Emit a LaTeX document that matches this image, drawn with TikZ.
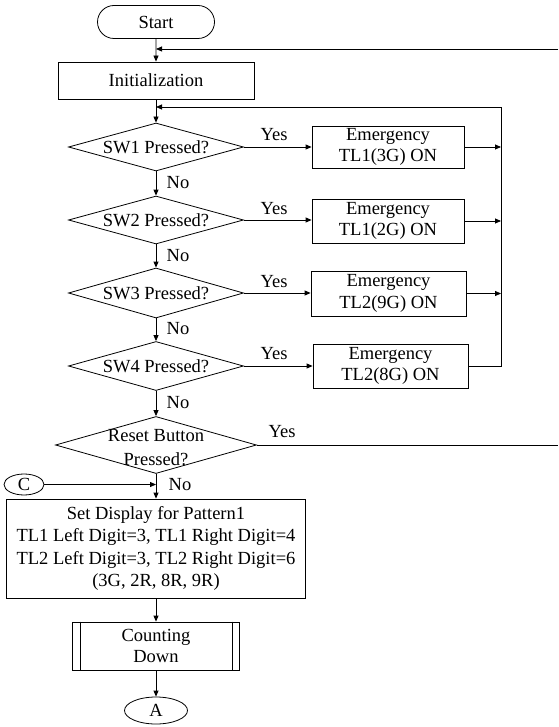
\documentclass[tikz,border=0pt]{standalone}
\usepackage{fontspec}
\setmainfont{Liberation Serif}
\usetikzlibrary{shapes.geometric,shapes.misc,arrows.meta}
\begin{document}
\begin{tikzpicture}[x=1pt,y=-1pt,
 every node/.style={font=\fontsize{18.5}{21.5}\selectfont},
 line/.style={draw=black, line width=0.8pt},
 arr/.style={line, -{Triangle[length=6pt,width=5pt]}},
 procbox/.style={draw, line width=0.8pt, rectangle, inner sep=0pt, align=center},
 decision/.style={draw, line width=0.8pt, diamond, inner sep=0pt},
 term/.style={draw, line width=0.8pt, rounded rectangle, inner sep=0pt},
 conn/.style={draw, line width=0.8pt, ellipse, inner sep=0pt},
 lbl/.style={inner sep=0pt}
]
\useasboundingbox (0,0) rectangle (558,727);

% nodes
\node[term, minimum width=117pt, minimum height=33pt] (start) at (156,22) {Start};
\node[procbox, minimum width=196pt, minimum height=37pt] (init) at (156,80.5) {Initialization};

\node[decision, minimum width=175pt, minimum height=48pt] (d1) at (156,147) {};
\node[lbl] (t1) at (d1) {SW1 Pressed?};
\node[decision, minimum width=175pt, minimum height=48pt] (d2) at (156,220) {};
\node[lbl] (t2) at (d2) {SW2 Pressed?};
\node[decision, minimum width=175pt, minimum height=50pt] (d3) at (156,293) {};
\node[lbl] (t3) at (d3) {SW3 Pressed?};
\node[decision, minimum width=175pt, minimum height=49pt] (d4) at (156,366) {};
\node[lbl] (t4) at (d4) {SW4 Pressed?};

\node[procbox, minimum width=152pt, minimum height=42pt] (e1) at (388,147) {Emergency\\TL1(3G) ON};
\node[procbox, minimum width=152pt, minimum height=44pt] (e2) at (388,221) {Emergency\\TL1(2G) ON};
\node[procbox, minimum width=155pt, minimum height=45pt] (e3) at (388.5,293.5) {Emergency\\TL2(9G) ON};
\node[procbox, minimum width=155pt, minimum height=44pt] (e4) at (390.5,366) {Emergency\\TL2(8G) ON};

\node[decision, minimum width=201pt, minimum height=57pt] (reset) at (156,445) {};
\node[lbl, align=center, font=\fontsize{18.5}{24}\selectfont] (tr) at (156,448) {Reset Button\\Pressed?};

\node[conn, minimum width=40pt, minimum height=21pt] (C) at (24,484.5) {C};

\node[procbox, minimum width=299pt, minimum height=99pt, font=\fontsize{18.5}{22.3}\selectfont] (pat) at (156,548.5)
 {Set Display for Pattern1\\TL1 Left Digit=3, TL1 Right Digit=4\\TL2 Left Digit=3, TL2 Right Digit=6\\(3G, 2R, 8R, 9R)};

\node[procbox, minimum width=167pt, minimum height=48pt] (cd) at (156,646) {Counting\\Down};
\draw[line] ([xshift=8pt]cd.north west) -- ([xshift=8pt]cd.south west);
\draw[line] ([xshift=-8pt]cd.north east) -- ([xshift=-8pt]cd.south east);

\node[conn, minimum width=63pt, minimum height=27pt] (A) at (156,710.5) {A};

% helper coordinates
\coordinate (r1) at (558,49);
\coordinate (rr) at (501,107);

% connectors
\draw[arr] (start) -- (init);
\draw[arr] (r1) -- (r1 -| start.south);
\draw[arr] (init) -- (d1);
\draw[arr] (e4.east) -- (e4.east -| rr) -- (rr) -- (rr -| init.south);
\draw[arr] (e1.east) -- (e1.east -| rr);
\draw[arr] (e2.east) -- (e2.east -| rr);
\draw[arr] (e3.east) -- (e3.east -| rr);

\draw[arr] (d1.east) -- (d1.east -| e1.west);
\draw[arr] (d2.east) -- (d2.east -| e2.west);
\draw[arr] (d3.east) -- (d3.east -| e3.west);
\draw[arr] (d4.east) -- (d4.east -| e4.west);

\draw[arr] (d1) -- (d2);
\draw[arr] (d2) -- (d3);
\draw[arr] (d3) -- (d4);
\draw[arr] (d4) -- (reset);
\draw[line] (reset.east) -- (reset.east -| r1);
\draw[arr] (reset.south) -- (pat.north);
\draw[arr] (C.east) -- (C.east -| pat.north);
\draw[arr] (pat) -- (cd);
\draw[arr] (cd) -- (A);

% labels
\node[lbl] (y1) at (274,135) {Yes};
\node[lbl] (y2) at (274,209) {Yes};
\node[lbl] (y3) at (274,282) {Yes};
\node[lbl] (y4) at (274,354) {Yes};
\node[lbl] (y5) at (282,432) {Yes};
\node[lbl] (n1) at (178,183) {No};
\node[lbl] (n2) at (178,256) {No};
\node[lbl] (n3) at (178,329) {No};
\node[lbl] (n4) at (178,403) {No};
\node[lbl] (n5) at (180,485) {No};
\end{tikzpicture}
\end{document}
